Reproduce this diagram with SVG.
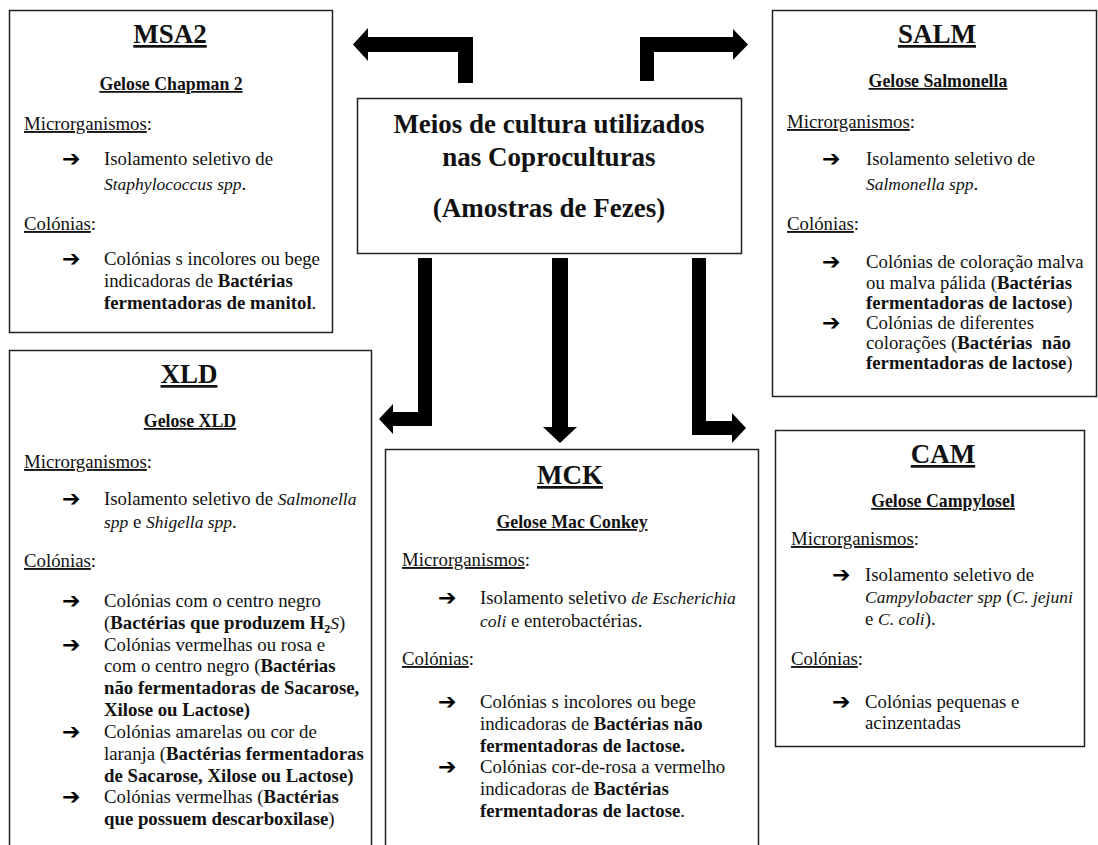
<svg xmlns="http://www.w3.org/2000/svg" width="1098" height="845" viewBox="0 0 1098 845">
<style>
.box{fill:#fff;stroke:#222;stroke-width:1.5}
.t{font-family:"Liberation Serif","Times New Roman",serif;fill:#111}
.title{font-size:27px;font-weight:bold;text-anchor:middle;text-decoration:underline}
.sub{font-size:17.8px;font-weight:bold;text-anchor:middle;text-decoration:underline}
.body{font-size:18.8px}
.b{font-weight:bold}
.i{font-style:italic;font-size:17.5px}
.u{text-decoration:underline}
.ar{font-family:"DejaVu Sans",sans-serif;font-size:22px;font-weight:bold;fill:#000}
.center{font-size:27px;font-weight:bold;text-anchor:middle}
.conn{fill:#000}
</style>
<rect width="1098" height="845" fill="#fff"/>
<g id="connectors">
<polygon class="conn" points="473,83 473,37 368,37 368,28 353,44.5 368,61 368,52 458,52 458,83"/>
<polygon class="conn" points="640,81 640,37 733,37 733,29 748,44.5 733,60 733,52 654,52 654,81"/>
<polygon class="conn" points="418,258 432,258 432,426 393,426 393,434 379,419 393,404 393,412 418,412"/>
<polygon class="conn" points="552,258 568,258 568,427 577,427 560,443 543,427 552,427"/>
<polygon class="conn" points="692,258 706,258 706,421 732,421 732,413 746,428 732,443 732,435 692,435"/>
</g>
<g id="center">
<rect class="box" x="357.5" y="98.5" width="384" height="155"/>
<text class="t center" x="549" y="133">Meios de cultura utilizados</text>
<text class="t center" x="549" y="166">nas Coproculturas</text>
<text class="t center" x="549" y="217">(Amostras de Fezes)</text>
</g>
<g id="msa2">
<rect class="box" x="9.5" y="10.5" width="323" height="322"/>
<text class="t title" x="170" y="43">MSA2</text>
<text class="t sub" x="171" y="90">Gelose Chapman 2</text>
<text class="t body" x="24" y="130"><tspan class="u">Microrganismos</tspan>:</text>
<text class="ar" x="62" y="166">➔</text>
<text class="t body" x="104" y="165">Isolamento seletivo de</text>
<text class="t body" x="104" y="190"><tspan class="i">Staphylococcus spp</tspan>.</text>
<text class="t body" x="24" y="230"><tspan class="u">Colónias</tspan>:</text>
<text class="ar" x="62" y="266">➔</text>
<text class="t body" x="104" y="265">Colónias s incolores ou bege</text>
<text class="t body" x="104" y="287">indicadoras de <tspan class="b">Bactérias</tspan></text>
<text class="t body b" x="104" y="309">fermentadoras de manitol<tspan font-weight="normal">.</tspan></text>
</g>
<g id="salm">
<rect class="box" x="772.5" y="10.5" width="324" height="386"/>
<text class="t title" x="937" y="43">SALM</text>
<text class="t sub" x="938" y="87">Gelose Salmonella</text>
<text class="t body" x="787" y="128"><tspan class="u">Microrganismos</tspan>:</text>
<text class="ar" x="822" y="166">➔</text>
<text class="t body" x="866" y="165">Isolamento seletivo de</text>
<text class="t body" x="866" y="190"><tspan class="i">Salmonella spp</tspan>.</text>
<text class="t body" x="787" y="230"><tspan class="u">Colónias</tspan>:</text>
<text class="ar" x="822" y="269">➔</text>
<text class="t body" x="866" y="268">Colónias de coloração malva</text>
<text class="t body" x="866" y="289">ou malva pálida (<tspan class="b">Bactérias</tspan></text>
<text class="t body" x="866" y="309"><tspan class="b">fermentadoras de lactose</tspan>)</text>
<text class="ar" x="822" y="330">➔</text>
<text class="t body" x="866" y="329">Colónias de diferentes</text>
<text class="t body" x="866" y="349" xml:space="preserve">colorações (<tspan class="b">Bactérias  não</tspan></text>
<text class="t body" x="866" y="369"><tspan class="b">fermentadoras de lactose</tspan>)</text>
</g>
<g id="xld">
<rect class="box" x="9.5" y="350.5" width="362" height="520"/>
<text class="t title" x="189" y="383">XLD</text>
<text class="t sub" x="190" y="427">Gelose XLD</text>
<text class="t body" x="24" y="468"><tspan class="u">Microrganismos</tspan>:</text>
<text class="ar" x="62" y="506">➔</text>
<text class="t body" x="104" y="505">Isolamento seletivo de <tspan class="i">Salmonella</tspan></text>
<text class="t body" x="104" y="528"><tspan class="i">spp</tspan> e <tspan class="i">Shigella spp</tspan>.</text>
<text class="t body" x="24" y="567"><tspan class="u">Colónias</tspan>:</text>
<text class="ar" x="62" y="608">➔</text>
<text class="t body" x="104" y="607">Colónias com o centro negro</text>
<text class="t body" x="104" y="629">(<tspan class="b">Bactérias que produzem H</tspan><tspan class="b" font-size="12" dy="4">2</tspan><tspan class="i" dy="-4">S</tspan>)</text>
<text class="ar" x="62" y="652">➔</text>
<text class="t body" x="104" y="651">Colónias vermelhas ou rosa e</text>
<text class="t body" x="104" y="672">com o centro negro (<tspan class="b">Bactérias</tspan></text>
<text class="t body b" x="104" y="694">não fermentadoras de Sacarose,</text>
<text class="t body b" x="104" y="716">Xilose ou Lactose)</text>
<text class="ar" x="62" y="739">➔</text>
<text class="t body" x="104" y="738">Colónias amarelas ou cor de</text>
<text class="t body" x="104" y="760">laranja (<tspan class="b">Bactérias fermentadoras</tspan></text>
<text class="t body b" x="104" y="782">de Sacarose, Xilose ou Lactose)</text>
<text class="ar" x="62" y="804">➔</text>
<text class="t body" x="104" y="803">Colónias vermelhas (<tspan class="b">Bactérias</tspan></text>
<text class="t body" x="104" y="825"><tspan class="b">que possuem descarboxilase</tspan>)</text>
</g>
<g id="mck">
<rect class="box" x="385.5" y="449.5" width="373" height="420"/>
<text class="t title" x="570" y="484">MCK</text>
<text class="t sub" x="572" y="528">Gelose Mac Conkey</text>
<text class="t body" x="402" y="566"><tspan class="u">Microrganismos</tspan>:</text>
<text class="ar" x="438" y="605">➔</text>
<text class="t body" x="480" y="604">Isolamento seletivo <tspan class="i">de Escherichia</tspan></text>
<text class="t body" x="480" y="627"><tspan class="i">coli</tspan> e enterobactérias.</text>
<text class="t body" x="402" y="665"><tspan class="u">Colónias</tspan>:</text>
<text class="ar" x="438" y="709">➔</text>
<text class="t body" x="480" y="708">Colónias s incolores ou bege</text>
<text class="t body" x="480" y="730">indicadoras de <tspan class="b">Bactérias não</tspan></text>
<text class="t body b" x="480" y="752">fermentadoras de lactose.</text>
<text class="ar" x="438" y="774">➔</text>
<text class="t body" x="480" y="773">Colónias cor-de-rosa a vermelho</text>
<text class="t body" x="480" y="795">indicadoras de <tspan class="b">Bactérias</tspan></text>
<text class="t body" x="480" y="817"><tspan class="b">fermentadoras de lactose</tspan>.</text>
</g>
<g id="cam">
<rect class="box" x="775.5" y="430.5" width="309" height="316"/>
<text class="t title" x="943" y="463">CAM</text>
<text class="t sub" x="943" y="507">Gelose Campylosel</text>
<text class="t body" x="791" y="545"><tspan class="u">Microrganismos</tspan>:</text>
<text class="ar" x="832" y="582">➔</text>
<text class="t body" x="865" y="581">Isolamento seletivo de</text>
<text class="t body" x="865" y="603"><tspan class="i">Campylobacter spp</tspan> (<tspan class="i">C. jejuni</tspan></text>
<text class="t body" x="865" y="625">e <tspan class="i">C. coli</tspan>).</text>
<text class="t body" x="791" y="665"><tspan class="u">Colónias</tspan>:</text>
<text class="ar" x="832" y="709">➔</text>
<text class="t body" x="865" y="708">Colónias pequenas e</text>
<text class="t body" x="865" y="729">acinzentadas</text>
</g>
</svg>
